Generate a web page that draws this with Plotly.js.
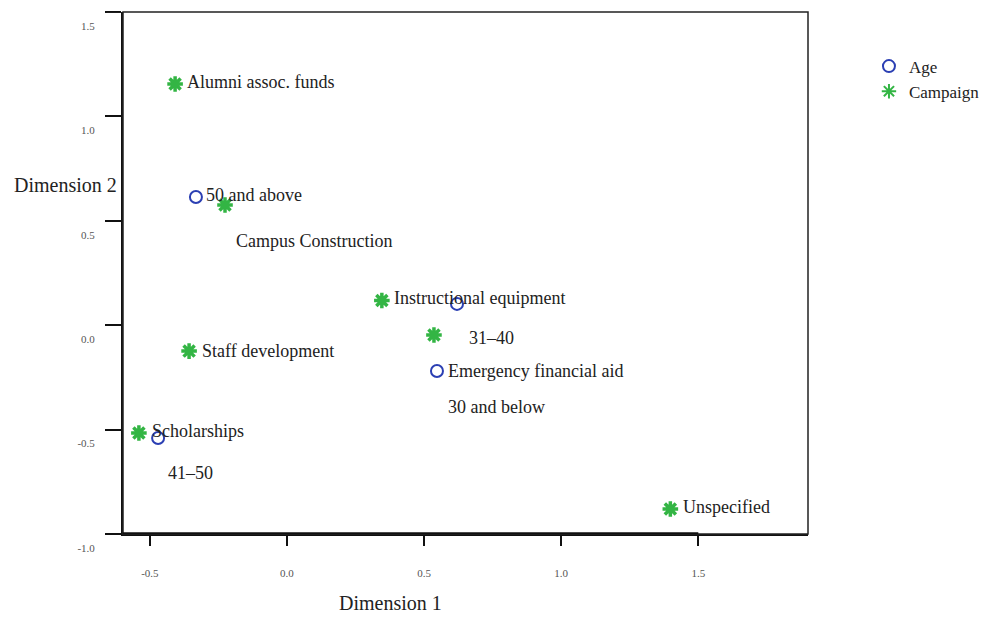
<!DOCTYPE html>
<html>
<head>
<meta charset="utf-8">
<script src="https://cdn.plot.ly/plotly-3.0.1.min.js"></script>
<style>
html,body{margin:0;padding:0;background:#fff;}
#chart{width:990px;height:617px;}
</style>
</head>
<body>
<div id="chart"></div>
<script>
// ---- Data ----
var ageNames = ["50 and above", "31–40", "30 and below", "41–50"];
var ageX = [-0.332, 0.620, 0.547, -0.470];
var ageY = [0.614, 0.102, -0.219, -0.540];

var campNames = ["Alumni assoc. funds", "Campus Construction", "Instructional equipment",
                 "Emergency financial aid", "Staff development", "Scholarships", "Unspecified"];
var campX = [-0.408, -0.226, 0.346, 0.536, -0.357, -0.540, 1.398];
var campY = [1.155, 0.576, 0.118, -0.047, -0.124, -0.516, -0.880];

// point labels as placed in the original figure (left edge anchor)
var labelText = ["Alumni assoc. funds", "50 and above", "Campus Construction", "Instructional equipment",
                 "31–40", "Staff development", "Emergency financial aid", "30 and below",
                 "Scholarships", "41–50", "Unspecified"];
var labelX = [-0.368, -0.299, -0.190, 0.387, 0.660, -0.314, 0.584, 0.584, -0.496, -0.438, 1.441];
var labelY = [1.165, 0.624, 0.403, 0.130, -0.061, -0.124, -0.219, -0.392, -0.507, -0.708, -0.871];

var xTicks = [-0.5, 0.0, 0.5, 1.0, 1.5];
var xTickText = ["-0.5", "0.0", "0.5", "1.0", "1.5"];
var yTicks = [-1.0, -0.5, 0.0, 0.5, 1.0, 1.5];
var yTickText = ["-1.0", "-0.5", "0.0", "0.5", "1.0", "1.5"];
var xRange = [-0.598, 1.900];
var yRange = [-1.0, 1.5];

var blue = "#2b3fb3";
var green = "#33b544";
var serif = "Liberation Serif, DejaVu Serif, serif";

var traces = [
  {
    type: "scatter", mode: "markers", name: "Age",
    x: ageX, y: ageY, text: ageNames, hoverinfo: "text",
    marker: {symbol: "circle-open", size: 12, color: blue, line: {width: 2, color: blue}}
  },
  {
    type: "scatter", mode: "markers", name: "Campaign",
    x: campX, y: campY, text: campNames, hoverinfo: "text",
    marker: {symbol: "asterisk-open", size: 13, color: green, line: {width: 3.5, color: green}}
  }
];

var annotations = labelText.map(function (t, i) {
  return {
    x: labelX[i], y: labelY[i], xref: "x", yref: "y", text: t, showarrow: false,
    xanchor: "left", yanchor: "middle", borderpad: 0,
    font: {family: serif, size: 18, color: "#222"}
  };
});
annotations.push({
  x: -0.162, y: 0.669, xref: "paper", yref: "paper", xanchor: "left", yanchor: "middle",
  text: "Dimension 2", showarrow: false, font: {family: serif, size: 20, color: "#222"}
});
annotations.push({
  x: 0.390, y: -0.133, xref: "paper", yref: "paper", xanchor: "center", yanchor: "middle",
  text: "Dimension 1", showarrow: false, font: {family: serif, size: 20, color: "#222"}
});

var shapes = [
  // frame
  {type: "rect", xref: "x domain", yref: "y domain", x0: 0, x1: 1, y0: 0, y1: 1,
   line: {color: "#222", width: 1.5}},
  // top extension at 1.5
  {type: "line", xref: "paper", yref: "y", x0: -0.024, x1: 0, y0: yRange[1], y1: yRange[1],
   line: {color: "#222", width: 1.5}},
  // thick x axis segment up to last tick
  {type: "line", xref: "x", yref: "y", x0: xRange[0], x1: xTicks[xTicks.length - 1],
   y0: yRange[0], y1: yRange[0], line: {color: "#111", width: 3.5}}
];

var layout = {
  width: 990, height: 617,
  margin: {l: 123, r: 182, t: 12, b: 83, pad: 0, autoexpand: false},
  paper_bgcolor: "#fff", plot_bgcolor: "#fff",
  showlegend: true,
  legend: {
    x: 1.089, y: 0.93, xanchor: "left", yanchor: "top",
    font: {family: serif, size: 17, color: "#222"},
    bgcolor: "rgba(0,0,0,0)", itemsizing: "constant", tracegroupgap: 0
  },
  xaxis: {
    range: xRange, tickvals: xTicks, ticktext: xTickText, automargin: false,
    showgrid: false, zeroline: false,
    showline: true, linecolor: "#111", linewidth: 2,
    ticks: "outside", ticklen: 10, tickwidth: 2, tickcolor: "#111",
    ticklabelstandoff: 18,
    tickfont: {family: serif, size: 11, color: "#555"}
  },
  yaxis: {
    range: yRange, tickvals: yTicks, ticktext: yTickText, automargin: false,
    showgrid: false, zeroline: false,
    showline: true, linecolor: "#111", linewidth: 2,
    ticks: "outside", ticklen: 16, tickwidth: 2, tickcolor: "#111",
    ticklabelstandoff: 8, ticklabelshift: 14,
    tickfont: {family: serif, size: 11, color: "#555"}
  },
  annotations: annotations,
  shapes: shapes
};

Plotly.newPlot("chart", traces, layout, {displayModeBar: false, staticPlot: true});
</script>
</body>
</html>
